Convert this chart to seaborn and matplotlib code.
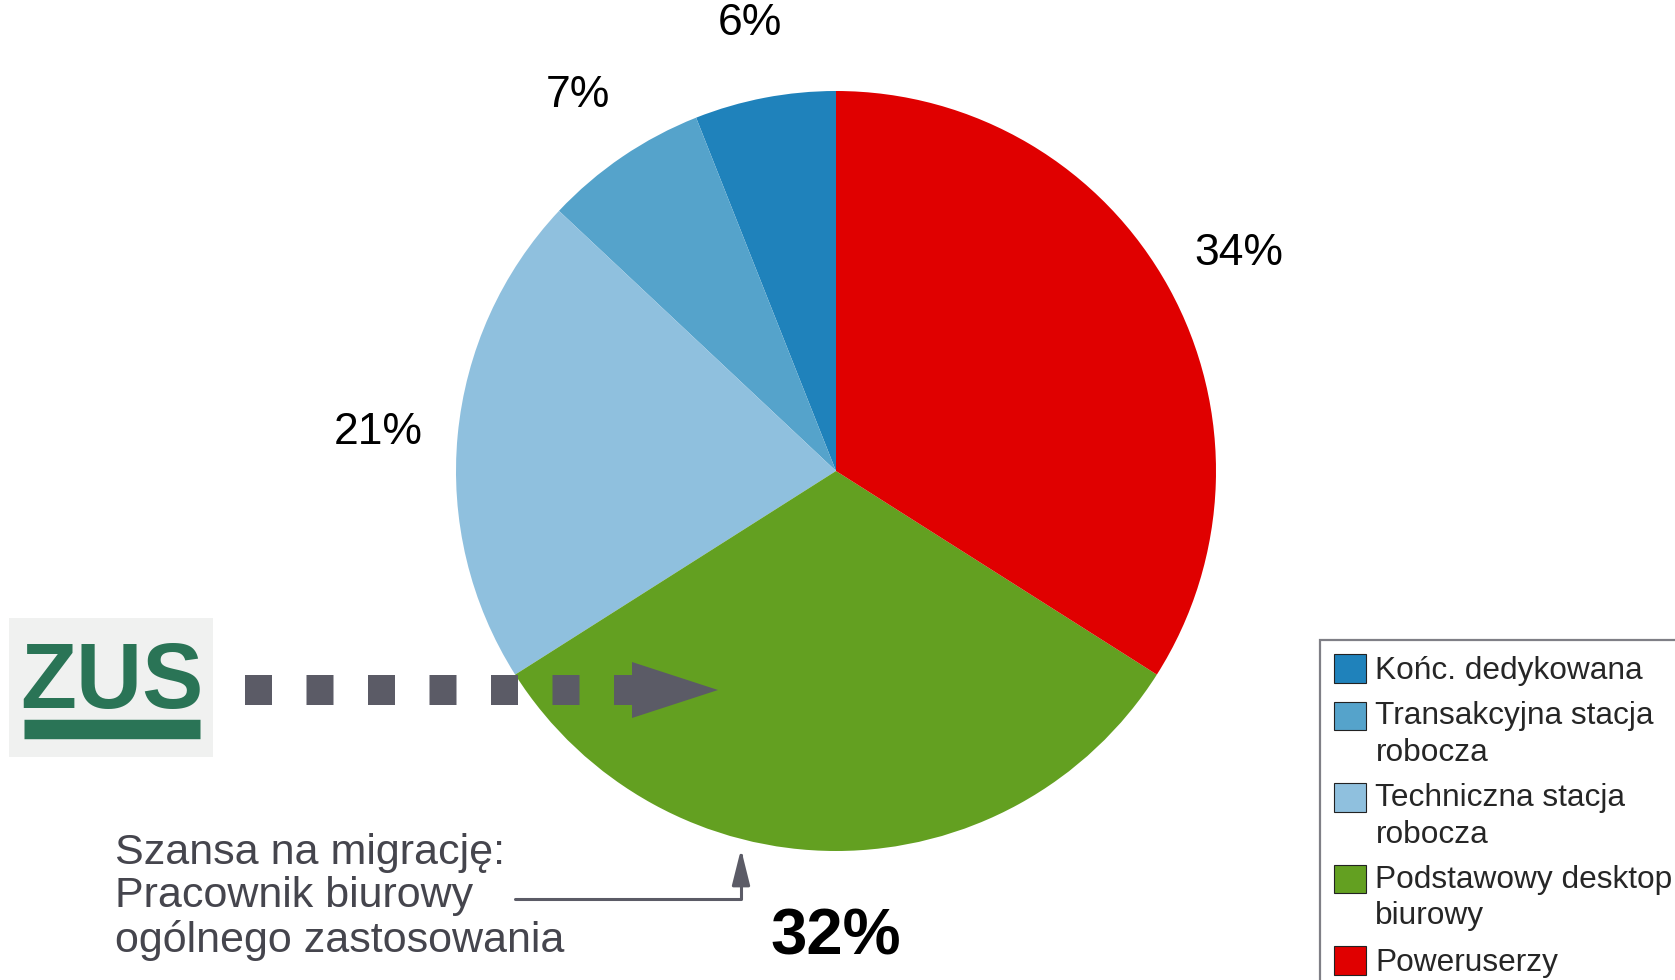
import matplotlib
matplotlib.use("Agg")
import matplotlib.pyplot as plt
import seaborn as sns
from matplotlib.legend_handler import HandlerPatch
from matplotlib.patches import Rectangle, Polygon

# Dane wykresu (kolejność jak w legendzie)
kategorie = ["Końc. dedykowana", "Transakcyjna stacja\nrobocza", "Techniczna stacja\nrobocza",
             "Podstawowy desktop\nbiurowy", "Poweruserzy"]
udzialy = [6, 7, 21, 32, 34]
etykiety = ["6%", "7%", "21%", "32%", "34%"]
kolory = ["#1f82bb", "#55a3cb", "#8fc0de", "#63a021", "#e00000"]

sns.set_theme(style="white")
plt.rcParams["font.family"] = ["Liberation Sans", "DejaVu Sans"]

W, H = 1675, 980
fig = plt.figure(figsize=(W / 100, H / 100), dpi=100)

# Wykres kołowy
cx, cy, r = 836, 471, 380
ax = fig.add_axes([(cx - r) / W, (H - cy - r) / H, 2 * r / W, 2 * r / H])
wedges, texts = ax.pie(udzialy, labels=etykiety, colors=kolory, startangle=90,
                       counterclock=True, labeldistance=1.21,
                       wedgeprops=dict(linewidth=0),
                       textprops=dict(fontsize=32, color="black"))
ax.set_xlim(-1, 1)
ax.set_ylim(-1, 1)
ax.set_aspect("equal")
for t in texts:
    t.set_ha("center")
    t.set_va("center_baseline")
texts[3].set_fontsize(47)
texts[3].set_fontweight("bold")

# Warstwa pomocnicza w pikselach (logo, strzałki, opis) - nad wykresem
over = fig.add_axes([0, 0, 1, 1])
over.set_xlim(0, W)
over.set_ylim(H, 0)
over.axis("off")
over.patch.set_alpha(0)
over.set_zorder(3)


# Legenda - kwadrat przy pierwszej linii opisu
class HandlerGora(HandlerPatch):
    def create_artists(self, legend, orig_handle, xdescent, ydescent, width, height,
                       fontsize, trans):
        n = orig_handle.get_label().count("\n")
        p = Rectangle((-xdescent, -ydescent + n * 0.62 * fontsize), width, height)
        self.update_prop(p, orig_handle, legend)
        p.set_transform(trans)
        return [p]


uchwyty = [Rectangle((0, 0), 1, 1, facecolor=c, edgecolor="#222222", linewidth=0.8, label=k)
           for c, k in zip(kolory, kategorie)]
leg = fig.legend(handles=uchwyty, loc="upper left", bbox_to_anchor=(1320 / W, 1 - 640 / H),
                 bbox_transform=fig.transFigure, borderaxespad=0, frameon=True,
                 fancybox=False, edgecolor="#5f5f68", fontsize=22.8,
                 handlelength=1.0, handleheight=1.0, handletextpad=0.3,
                 labelspacing=0.48, borderpad=0.45,
                 handler_map={Rectangle: HandlerGora()})
leg.get_frame().set_linewidth(1.6)
for t in leg.get_texts():
    t.set_linespacing(1.28)

# Logo ZUS
zielony = "#2a7456"
over.add_patch(Rectangle((9, 618), 204, 139, facecolor="#f0f1f0", edgecolor="none"))
over.text(112, 674, "ZUS", fontsize=66, fontweight="bold", color=zielony,
          ha="center", va="center_baseline")
over.plot([24, 200], [729, 729], color=zielony, linewidth=14, solid_capstyle="butt")

# Przerywana strzałka
szary = "#5b5b66"
over.plot([245, 640], [690, 690], color=szary, linewidth=21.6,
          linestyle=(0, (0.9, 1.15)), solid_capstyle="butt", dash_capstyle="butt")
over.add_patch(Polygon([(632, 662), (632, 718), (718, 690)], closed=True,
                       facecolor=szary, edgecolor="none"))

# Opis i strzałka łamana
over.text(115, 897, "Szansa na migrację:\nPracownik biurowy\nogólnego zastosowania",
          fontsize=31, color="#45454d", ha="left", va="center", linespacing=1.11)
over.annotate("", xy=(741, 849), xytext=(515, 899),
              arrowprops=dict(arrowstyle="-|>,head_length=2.2,head_width=0.55",
                              connectionstyle="angle,angleA=0,angleB=90,rad=0",
                              color=szary, lw=2.2, shrinkA=0, shrinkB=0,
                              mutation_scale=10))

fig.savefig("out.png", dpi=100)
